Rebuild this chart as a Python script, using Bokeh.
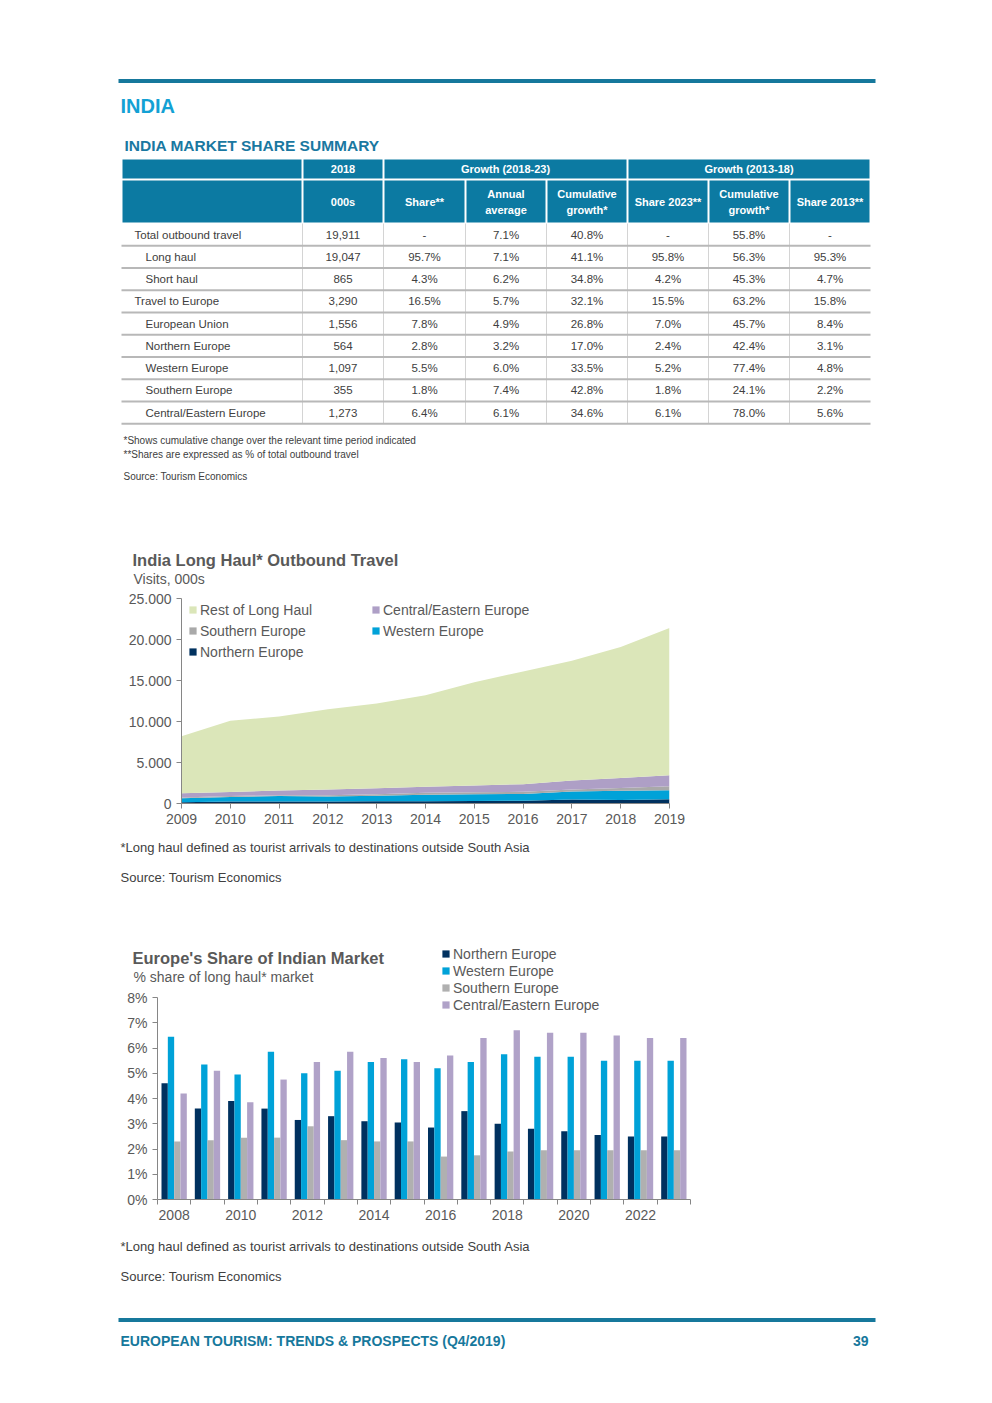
from bokeh.plotting import figure
from bokeh.models import Range1d, FixedTicker, Legend, LegendItem, ColumnDataSource
from bokeh.transform import dodge
from bokeh.embed import file_html
from bokeh.resources import INLINE
from bokeh.core.properties import value

FONT = "Liberation Sans"
TEAL = "#16789c"
HDR = "#0c7aa2"
GREY_TXT = "#595959"
BODY_TXT = "#404040"
AXIS = "#868686"

# ---------------- table data ----------------
row_labels = ["Total outbound travel", "Long haul", "Short haul", "Travel to Europe",
              "European Union", "Northern Europe", "Western Europe", "Southern Europe",
              "Central/Eastern Europe"]
row_level = [0, 1, 1, 0, 1, 1, 1, 1, 1]
col_000s = ["19,911", "19,047", "865", "3,290", "1,556", "564", "1,097", "355", "1,273"]
col_share = ["-", "95.7%", "4.3%", "16.5%", "7.8%", "2.8%", "5.5%", "1.8%", "6.4%"]
col_annual = ["7.1%", "7.1%", "6.2%", "5.7%", "4.9%", "3.2%", "6.0%", "7.4%", "6.1%"]
col_cum_1823 = ["40.8%", "41.1%", "34.8%", "32.1%", "26.8%", "17.0%", "33.5%", "42.8%", "34.6%"]
col_share23 = ["-", "95.8%", "4.2%", "15.5%", "7.0%", "2.4%", "5.2%", "1.8%", "6.1%"]
col_cum_1318 = ["55.8%", "56.3%", "45.3%", "63.2%", "45.7%", "42.4%", "77.4%", "24.1%", "78.0%"]
col_share13 = ["-", "95.3%", "4.7%", "15.8%", "8.4%", "3.1%", "4.8%", "2.2%", "5.6%"]
hdr1_labels = ["", "2018", "Growth (2018-23)", "Growth (2013-18)"]
hdr2_labels = ["", "000s", "Share**", "Annual\naverage", "Cumulative\ngrowth*",
               "Share 2023**", "Cumulative\ngrowth*", "Share 2013**"]

# ---------------- area chart data (000s) ----------------
area_years = [2009, 2010, 2011, 2012, 2013, 2014, 2015, 2016, 2017, 2018, 2019]
area_northern = [150, 230, 250, 250, 260, 280, 300, 330, 500, 420, 530]
area_western = [490, 570, 650, 610, 690, 780, 830, 840, 950, 1140, 1090]
area_southern = [100, 100, 120, 140, 170, 240, 250, 250, 250, 320, 480]
area_cee = [510, 500, 580, 700, 730, 750, 820, 930, 1100, 1220, 1350]
area_rest = [6950, 8700, 9000, 9800, 10350, 11150, 12600, 13750, 14600, 16000, 17950]
area_yticks = [0, 5000, 10000, 15000, 20000, 25000]
area_ytick_labels = ["0", "5.000", "10.000", "15.000", "20.000", "25.000"]

# ---------------- bar chart data (% share) ----------------
bar_years = list(range(2008, 2024))
bar_northern = [4.6, 3.6, 3.9, 3.6, 3.15, 3.3, 3.1, 3.05, 2.85, 3.5, 3.0, 2.8, 2.7, 2.55, 2.5, 2.5]
bar_western = [6.45, 5.35, 4.95, 5.85, 5.0, 5.1, 5.45, 5.55, 5.2, 5.45, 5.75, 5.65, 5.65, 5.5, 5.5, 5.5]
bar_southern = [2.3, 2.35, 2.45, 2.45, 2.9, 2.35, 2.3, 2.3, 1.7, 1.75, 1.9, 1.95, 1.95, 1.95, 1.95, 1.95]
bar_cee = [4.2, 5.1, 3.85, 4.75, 5.45, 5.85, 5.6, 5.45, 5.7, 6.4, 6.7, 6.6, 6.6, 6.5, 6.4, 6.4]
bar_yticks = [0, 1, 2, 3, 4, 5, 6, 7, 8]
bar_ytick_labels = ["0%", "1%", "2%", "3%", "4%", "5%", "6%", "7%", "8%"]
bar_xticks = [2008, 2010, 2012, 2014, 2016, 2018, 2020, 2022]

C_NORTH = "#00315f"
C_WEST = "#00a2d8"
C_SOUTH = "#b0b0b0"
C_CEE = "#b0a2c8"
C_REST = "#dbe6b9"

PAGE_W = 984


def text_fig(y0, h):
    p = figure(width=PAGE_W, height=h, x_range=Range1d(0, PAGE_W),
               y_range=Range1d(y0 + h, y0), x_axis_type=None, y_axis_type=None,
               toolbar_location=None, output_backend="svg",
               min_border=0, min_border_left=0, min_border_right=0,
               min_border_top=0, min_border_bottom=0)
    p.outline_line_color = None
    return p


def txt(p, xs, ys, texts, size, color, bold=False, align="left"):
    p.text(x=xs, y=ys, text=texts, text_font=value(FONT), text_font_size=f"{size}px",
           text_color=color, text_font_style="bold" if bold else "normal",
           text_align=align, text_baseline="middle")


# ======================= TOP: header + table =======================
pt = text_fig(0, 590)
pt.quad(left=[118], right=[875], top=[78.5], bottom=[82.5], color=TEAL, line_color=None)
txt(pt, [120], [105], ["INDIA"], 20, "#14a1d4", bold=True)
txt(pt, [124], [145], ["INDIA MARKET SHARE SUMMARY"], 15.5, "#1a78a1", bold=True)

edges = [121, 302, 383, 465, 546, 627, 708, 789, 870]
h1_edges = [edges[0], edges[1], edges[2], edges[5], edges[8]]
h1_top, h1_bot = 159, 178
h2_top, h2_bot = 180, 222
body_top, row_h = 223, 22.25

pt.quad(left=[e + 1 for e in h1_edges[:-1]], right=[e - 1 for e in h1_edges[1:]],
        top=[h1_top] * 4, bottom=[h1_bot] * 4, color=HDR, line_color=None)
h1_cx = [(a + b) / 2 for a, b in zip(h1_edges[:-1], h1_edges[1:])]
txt(pt, h1_cx, [(h1_top + h1_bot) / 2] * 4, hdr1_labels, 11, "white", bold=True, align="center")

pt.quad(left=[e + 1 for e in edges[:-1]], right=[e - 1 for e in edges[1:]],
        top=[h2_top] * 8, bottom=[h2_bot] * 8, color=HDR, line_color=None)
cx = [(a + b) / 2 for a, b in zip(edges[:-1], edges[1:])]
hx, hy, ht = [], [], []
mid2 = (h2_top + h2_bot) / 2
for c, lab in zip(cx, hdr2_labels):
    parts = lab.split("\n")
    if len(parts) == 1:
        hx.append(c); hy.append(mid2); ht.append(parts[0])
    else:
        hx += [c, c]; hy += [mid2 - 8, mid2 + 8]; ht += parts
txt(pt, hx, hy, ht, 11, "white", bold=True, align="center")

n = len(row_labels)
row_cy = [body_top + row_h * (i + 0.5) for i in range(n)]
row_bot = [body_top + row_h * (i + 1) for i in range(n)]
pt.segment(x0=edges[1:-1], y0=[body_top] * 7, x1=edges[1:-1], y1=[row_bot[-1]] * 7,
           line_color="#d4d4d4", line_width=1)
pt.segment(x0=[edges[0]] * n, y0=row_bot, x1=[edges[-1]] * n, y1=row_bot,
           line_color="#b8b8b8", line_width=2)
txt(pt, [134 if lv == 0 else 145 for lv in row_level], row_cy, row_labels, 11.5, BODY_TXT)
cols = [col_000s, col_share, col_annual, col_cum_1823, col_share23, col_cum_1318, col_share13]
for j, colvals in enumerate(cols):
    txt(pt, [cx[j + 1]] * n, row_cy, colvals, 11.5, BODY_TXT, align="center")

txt(pt, [123, 123, 123], [440, 454, 476],
    ["*Shows cumulative change over the relevant time period indicated",
     "**Shares are expressed as % of total outbound travel",
     "Source: Tourism Economics"], 10, BODY_TXT)

txt(pt, [132], [559], ["India Long Haul* Outbound Travel"], 16.5, GREY_TXT, bold=True)
txt(pt, [133], [578], ["Visits, 000s"], 14, GREY_TXT)


# ======================= AREA CHART =======================
def style_axes(p):
    for ax in list(p.xaxis) + list(p.yaxis):
        ax.axis_line_color = AXIS
        ax.major_tick_line_color = AXIS
        ax.major_tick_out = 5
        ax.major_tick_in = 0
        ax.minor_tick_line_color = None
        ax.major_label_text_font = FONT
        ax.major_label_text_font_size = "14px"
        ax.major_label_text_color = GREY_TXT
    p.xgrid.visible = False
    p.ygrid.visible = False
    p.outline_line_color = None


def make_legend(items, loc, lh):
    lg = Legend(items=items, location=loc, orientation="vertical")
    lg.background_fill_alpha = 0
    lg.border_line_color = None
    lg.padding = 0
    lg.margin = 0
    lg.spacing = 0
    lg.label_height = lh
    lg.glyph_height = 9
    lg.glyph_width = 9
    lg.label_standoff = 3
    lg.label_text_font = FONT
    lg.label_text_font_size = "14px"
    lg.label_text_color = GREY_TXT
    return lg


pa = figure(width=PAGE_W, height=245, x_range=Range1d(2009, 2019), y_range=Range1d(0, 25000),
            toolbar_location=None, output_backend="svg",
            min_border_left=181, min_border_right=PAGE_W - 181 - 488,
            min_border_top=8, min_border_bottom=32)
style_axes(pa)
pa.xaxis.ticker = FixedTicker(ticks=area_years)
pa.yaxis.ticker = FixedTicker(ticks=area_yticks)
pa.yaxis.major_label_overrides = {t: l for t, l in zip(area_yticks, area_ytick_labels)}

asrc = ColumnDataSource(dict(year=area_years, n=area_northern, w=area_western,
                             s=area_southern, c=area_cee, r=area_rest))
ar = pa.varea_stack(stackers=["n", "w", "s", "c", "r"], x="year",
                    color=[C_NORTH, C_WEST, "#a9a9a9", "#ae9fc6", C_REST], source=asrc)

pa.add_layout(make_legend([LegendItem(label="Rest of Long Haul", renderers=[ar[4]]),
                           LegendItem(label="Southern Europe", renderers=[ar[2]]),
                           LegendItem(label="Northern Europe", renderers=[ar[0]])], (7, 141), 21))
pa.add_layout(make_legend([LegendItem(label="Central/Eastern Europe", renderers=[ar[3]]),
                           LegendItem(label="Western Europe", renderers=[ar[1]])], (190, 162), 21))

# ======================= MIDDLE TEXT =======================
pm = text_fig(835, 105)
txt(pm, [120, 120], [847, 877],
    ["*Long haul defined as tourist arrivals to destinations outside South Asia",
     "Source: Tourism Economics"], 13, BODY_TXT)

# ======================= BAR CHART =======================
B_TOP, B_H = 940, 290
FR_L, FR_R, FR_T = 40, 760, 943                   # frame box on the page
FR_B = B_TOP + B_H
AX_L, AX_R, AX_T, AX_B = 157, 690, 997, 1199      # where the axes sit on the page
x0, x1 = bar_years[0] - 0.5, bar_years[-1] + 0.5
y_top_tick = bar_yticks[-1]
ppx = (AX_R - AX_L) / (x1 - x0)
ppy = (AX_B - AX_T) / y_top_tick
xs = x0 - (AX_L - FR_L) / ppx
xe = x1 + (FR_R - AX_R) / ppx
ys = -(FR_B - AX_B) / ppy
ye = y_top_tick + (AX_T - FR_T) / ppy


def bx(px):
    return xs + (px - FR_L) / ppx


def by(py):
    return (AX_B - py) / ppy


pb = figure(width=PAGE_W, height=B_H, x_range=Range1d(xs, xe), y_range=Range1d(ys, ye),
            toolbar_location=None, output_backend="svg",
            min_border_left=FR_L, min_border_right=PAGE_W - FR_R,
            min_border_top=FR_T - B_TOP, min_border_bottom=0)
style_axes(pb)
pb.yaxis.fixed_location = x0
pb.yaxis.bounds = (0, y_top_tick)
pb.yaxis.ticker = FixedTicker(ticks=bar_yticks)
pb.yaxis.major_label_overrides = {t: l for t, l in zip(bar_yticks, bar_ytick_labels)}
pb.xaxis.fixed_location = 0
pb.xaxis.bounds = (x0, x1)
pb.xaxis.ticker = FixedTicker(ticks=bar_xticks, minor_ticks=[y - 0.5 for y in bar_years] + [x1])
pb.xaxis.major_tick_out = 0
pb.xaxis.minor_tick_line_color = AXIS
pb.xaxis.minor_tick_out = 5
pb.xaxis.minor_tick_in = 0

bsrc = ColumnDataSource(dict(year=bar_years, n=bar_northern, w=bar_western,
                             s=bar_southern, c=bar_cee))
bw = 0.19
series = [("n", C_NORTH, -1.5, "Northern Europe"), ("w", C_WEST, -0.5, "Western Europe"),
          ("s", C_SOUTH, 0.5, "Southern Europe"), ("c", C_CEE, 1.5, "Central/Eastern Europe")]
b_items = []
for key, col, k, lab in series:
    r = pb.vbar(x=dodge("year", k * bw, range=pb.x_range), top=key, bottom=0, width=bw,
                source=bsrc, fill_color=col, line_color=None)
    b_items.append(LegendItem(label=lab, renderers=[r]))
pb.add_layout(make_legend(b_items, (441 - FR_L, FR_B - 1013), 17))

txt(pb, [bx(132)], [by(957)], ["Europe's Share of Indian Market"], 16.5, GREY_TXT, bold=True)
txt(pb, [bx(133)], [by(976)], ["% share of long haul* market"], 14, GREY_TXT)

# ======================= FOOTER =======================
pf = text_fig(1230, 165)
txt(pf, [120, 120], [1246, 1276],
    ["*Long haul defined as tourist arrivals to destinations outside South Asia",
     "Source: Tourism Economics"], 13, BODY_TXT)
pf.quad(left=[118], right=[875], top=[1317.5], bottom=[1321.5], color=TEAL, line_color=None)
txt(pf, [120], [1340], ["EUROPEAN TOURISM: TRENDS & PROSPECTS (Q4/2019)"], 14, TEAL, bold=True)
txt(pf, [868], [1340], ["39"], 14, TEAL, bold=True, align="right")

# separate roots: no frame alignment between the page sections
open("out.html", "w").write(file_html([pt, pa, pm, pb, pf], INLINE))
